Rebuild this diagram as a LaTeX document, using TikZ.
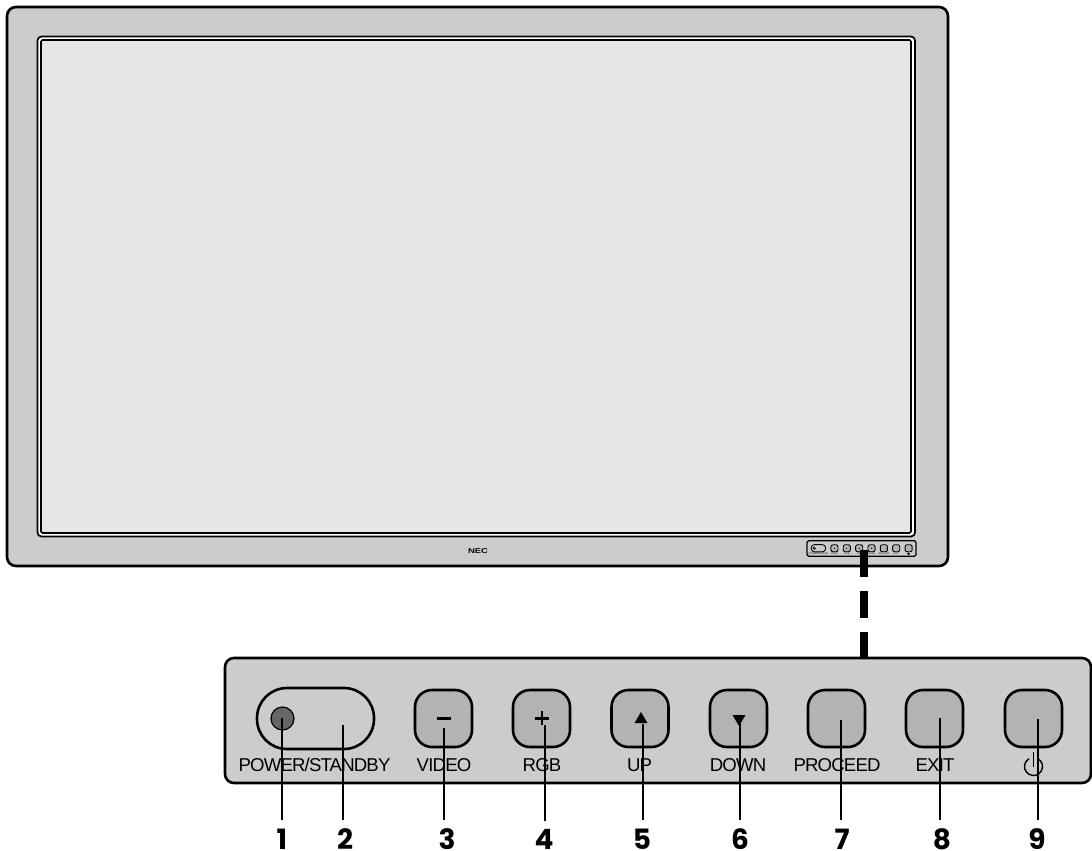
\documentclass[tikz,border=0pt]{standalone}
\usepackage{fontspec}
\setmainfont{Liberation Sans}
\newfontfamily\lblfont[LetterSpace=-4.5]{Liberation Sans}
\newfontfamily\numfont{Poppins}[BoldFont={Poppins Bold}]
\usetikzlibrary{calc}
\definecolor{bezel}{HTML}{CCCCCC}
\definecolor{screen}{HTML}{E6E6E6}
\definecolor{btn}{HTML}{B3B3B3}
\definecolor{led}{HTML}{666666}
\tikzset{
  shell/.style={draw=black,fill=bezel,line width=2.6pt,rounded corners=9pt},
  keybtn/.style={draw=black,fill=btn,line width=2.6pt,rounded corners=17pt,minimum width=57pt,minimum height=57pt,inner sep=0pt},
  pill/.style={draw=black,fill=bezel,line width=2.6pt,rounded corners=30pt,minimum width=117pt,minimum height=61pt,inner sep=0pt},
  ledspot/.style={circle,draw=black,fill=led,line width=1.2pt,minimum size=23pt,inner sep=0pt},
  lbl/.style={font=\lblfont\fontsize{18.6}{20}\selectfont,inner sep=0pt,text=black},
  num/.style={font=\numfont\bfseries\fontsize{28}{30}\selectfont,inner sep=0pt,anchor=base},
  leader/.style={draw=black,line width=1.2pt,shorten >=8pt},
  minikey/.style={draw=black,fill=btn,line width=.9pt,rounded corners=2pt,minimum width=7.1pt,minimum height=7pt,inner sep=0pt},
  minilbl/.style={font=\fontsize{2.3}{3}\selectfont,inner sep=0pt,text=black},
}
\begin{document}
\begin{tikzpicture}[x=1pt,y=-1pt]
\useasboundingbox (0,0) rectangle (1092,851);
% monitor
\draw[shell] (7,7) rectangle (948,566);
\draw[draw=black,fill=white,line width=1.7pt,rounded corners=4pt] (37.5,36.5) rectangle (915,536.5);
\draw[draw=black,fill=screen,line width=1.6pt,rounded corners=1.5pt] (41,40) rectangle (911,533);
\node[font=\bfseries\fontsize{7}{8}\selectfont,xscale=1.35,inner sep=0pt] (brand) at (478,551) {NEC};
% miniature control panel
\node[draw=black,fill=bezel,line width=1.2pt,rounded corners=1.5pt,minimum width=109pt,minimum height=15.5pt,inner sep=0pt] (minipanel) at (861.5,548.5) {};
\begin{scope}[shift={(807,541)},x=.1257pt,y=-.12pt]
  \node[draw=black,fill=bezel,line width=.9pt,rounded corners=3.5pt,minimum width=14.7pt,minimum height=7.3pt,inner sep=0pt] (minipill) at (90.5,60.5) {};
  \node[circle,draw=black,fill=led,line width=.4pt,minimum size=2.8pt,inner sep=0pt] (miniled) at (57,60) {};
  \foreach \nm/\cx/\tx in {a/218.5/VIDEO,b/316.5/RGB,c/415/UP,d/513.5/DOWN,e/611.5/PROCEED,f/709.5/EXIT}{
    \node[minikey] (mini\nm) at (\cx,60.5) {};
    \node[minilbl] (minil\nm) at (\cx,107) {\tx};
  }
  \node[minikey] (minig) at (808.5,60.5) {};
  \node[minilbl] (minilp) at (90,107) {POWER/STANDBY};
  \fill (211,59) rectangle (226,64);
  \fill (311,59) rectangle (322,64);
  \fill (415,55) -- (409,65) -- (421,65) -- cycle;
  \fill (513,66) -- (507,56) -- (519,56) -- cycle;
  \draw[line width=.5pt] (808,107) circle[radius=1.1pt];
  \draw[line width=.5pt] (808,96) -- (808,107);
\end{scope}
% panel
\coordinate (dashA) at (863.5,550);
\coordinate (dashB) at (863.5,659);
\draw[line width=8pt,dash pattern=on 27pt off 14pt] (dashA) -- (dashB);
\draw[shell] (225,658) rectangle (1091,783);
\node[pill] (pw) at (315.5,718.5) {};
\node[ledspot] (ledA) at (282.5,718.5) {};
\node[keybtn] (video) at (443.5,718.5) {};
\node[keybtn] (rgb) at (541.5,718.5) {};
\node[keybtn] (up) at (640,718.5) {};
\node[keybtn] (down) at (738.5,718.5) {};
\node[keybtn] (proceed) at (836.5,718.5) {};
\node[keybtn] (exit) at (934.5,718.5) {};
\node[keybtn] (stand) at (1033.5,718.5) {};
\fill (437,716.8) rectangle (451,719.6);
\fill (535,716.8) rectangle (549,719.6);
\fill (540.6,711) rectangle (543.4,725);
\fill (641,712) -- (634.5,723) -- (647.5,723) -- cycle;
\fill (739,726) -- (732.5,715) -- (745.5,715) -- cycle;
% labels
\node[lbl] (lp) at (314.5,765) {POWER/STANDBY};
\node[lbl] (lv) at (444,765) {VIDEO};
\node[lbl] (lr) at (542,765) {RGB};
\node[lbl] (lu) at (639.5,765) {UP};
\node[lbl] (ld) at (738,765) {DOWN};
\node[lbl] (lc) at (837,765) {PROCEED};
\node[lbl] (lx) at (935,765) {EXIT};
\draw[line width=1.4pt,black] (1033.5,752) -- (1033.5,767);
\draw[line width=1.4pt,black] (1038,758.7) arc[start angle=60,end angle=-240,radius=9pt];
% numbers
\foreach \n/\cx in {1/282,2/345,3/447,4/544,5/642,6/740,7/842,8/942,9/1037}{
  \node[num] (n\n) at (\cx,849) {\n};
}
% leaders
\foreach \n/\sx/\sy in {1/282/718,2/343/725,3/444/728,4/545/725,5/643/724,6/740/722,7/841/720,8/940/718,9/1038/719}{
  \coordinate (t\n) at (\sx,\sy);
  \draw[leader] (t\n) -- (t\n |- n\n.north);
}
\end{tikzpicture}
\end{document}
